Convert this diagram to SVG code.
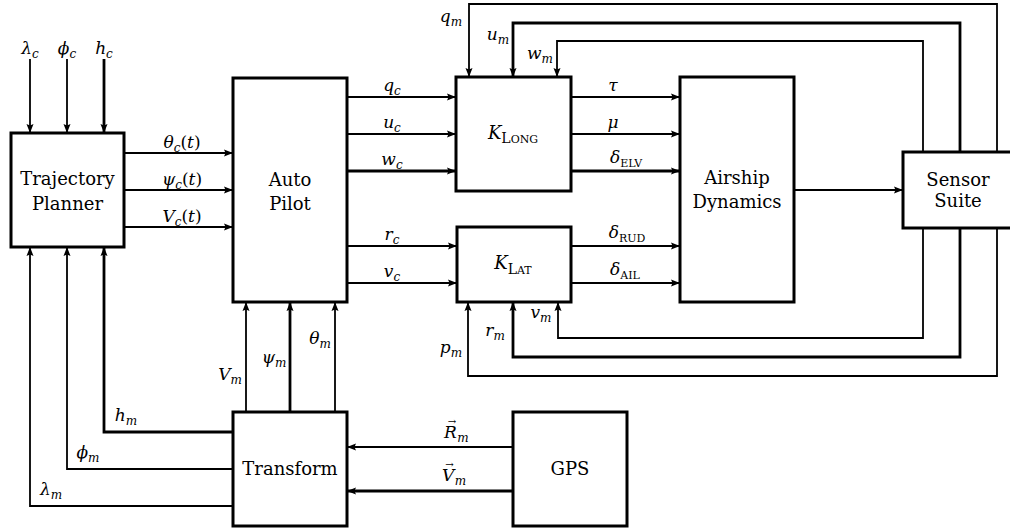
<svg xmlns="http://www.w3.org/2000/svg" width="1010" height="528" viewBox="0 0 1010 528">
<defs>
<marker id="ah" markerUnits="userSpaceOnUse" markerWidth="10" markerHeight="8" refX="9" refY="4" orient="auto">
<path d="M0,0.5 L9,4 L0,7.5 L1.5,4 z" fill="#000"/>
</marker>
<style>
.box{fill:#fff;stroke:#000;stroke-width:3}
.c{fill:none;stroke:#000;stroke-width:1.8}
.t{stroke-width:2.8}
.a{marker-end:url(#ah)}
.lbl{font-family:'DejaVu Serif','Liberation Serif','Noto Serif',Tinos,FreeSerif,Times,serif;font-size:18px;text-anchor:middle;fill:#000}
.m{font-family:'DejaVu Serif','Liberation Serif','Noto Serif',Tinos,FreeSerif,Times,serif;font-size:17px;font-style:italic;text-anchor:middle;fill:#000}
.ms{font-family:'DejaVu Serif','Liberation Serif','Noto Serif',Tinos,FreeSerif,Times,serif;font-size:17px;font-style:italic;fill:#000}
.s{font-size:12px}
.up{font-style:normal}
</style>
</defs>
<rect width="1010" height="528" fill="#fff"/>

<g id="connectors">
<path class="c a" d="M30,59 V133"/>
<path class="c a" d="M67,59 V133"/>
<path class="c t a" d="M104,59 V133"/>
<path class="c a" d="M124,153 H233"/>
<path class="c a" d="M124,190 H233"/>
<path class="c a" d="M124,227 H233"/>
<path class="c a" d="M347,97 H456"/>
<path class="c a" d="M347,134 H456"/>
<path class="c t a" d="M347,171 H456"/>
<path class="c a" d="M347,246 H457"/>
<path class="c a" d="M347,283 H457"/>
<path class="c a" d="M571,97 H680"/>
<path class="c a" d="M571,134 H680"/>
<path class="c t a" d="M571,171 H680"/>
<path class="c a" d="M571,246 H680"/>
<path class="c a" d="M571,283 H680"/>
<path class="c a" d="M794,190 H903"/>
<path class="c a" d="M997,152 V4 H469 V77"/>
<path class="c t a" d="M960,152 V23 H513 V77"/>
<path class="c a" d="M923,152 V41 H557 V77"/>
<path class="c a" d="M923,228 V338 H558 V302"/>
<path class="c t a" d="M960,228 V357 H513 V302"/>
<path class="c a" d="M997,228 V376 H468 V302"/>
<path class="c a" d="M246,412 V302"/>
<path class="c t a" d="M290,412 V302"/>
<path class="c a" d="M335,412 V302"/>
<path class="c t a" d="M233,432 H104 V247"/>
<path class="c a" d="M233,469 H67 V247"/>
<path class="c a" d="M233,506 H30 V247"/>
<path class="c a" d="M513,447 H347"/>
<path class="c t a" d="M513,491 H347"/>
</g>

<g id="labels">
<text class="m" x="30" y="54">λ<tspan class="s" dy="4">c</tspan></text>
<text class="m" x="67" y="54">ϕ<tspan class="s" dy="4">c</tspan></text>
<text class="m" x="104" y="54">h<tspan class="s" dy="4">c</tspan></text>

<text class="m" x="182" y="148">θ<tspan class="s" dy="4">c</tspan><tspan dy="-4" class="up">(</tspan>t<tspan class="up">)</tspan></text>
<text class="m" x="182" y="185">ψ<tspan class="s" dy="4">c</tspan><tspan dy="-4" class="up">(</tspan>t<tspan class="up">)</tspan></text>
<text class="m" x="182" y="222">V<tspan class="s" dy="4">c</tspan><tspan dy="-4" class="up">(</tspan>t<tspan class="up">)</tspan></text>

<text class="m" x="392" y="91">q<tspan class="s" dy="4">c</tspan></text>
<text class="m" x="392" y="128">u<tspan class="s" dy="4">c</tspan></text>
<text class="m" x="392" y="165">w<tspan class="s" dy="4">c</tspan></text>
<text class="m" x="392" y="240">r<tspan class="s" dy="4">c</tspan></text>
<text class="m" x="392" y="277">v<tspan class="s" dy="4">c</tspan></text>

<text class="m" x="613" y="91">τ</text>
<text class="m" x="613" y="128">μ</text>
<text class="m" x="626" y="163">δ<tspan class="up" font-size="11" dy="4">ELV</tspan></text>
<text class="m" x="627" y="238">δ<tspan class="up" font-size="11" dy="4">RUD</tspan></text>
<text class="m" x="625" y="275">δ<tspan class="up" font-size="11" dy="4">AIL</tspan></text>

<text class="m" x="451" y="22">q<tspan class="s" dy="4">m</tspan></text>
<text class="m" x="498" y="40">u<tspan class="s" dy="4">m</tspan></text>
<text class="m" x="540" y="59">w<tspan class="s" dy="4">m</tspan></text>

<text class="m" x="541" y="318">v<tspan class="s" dy="4">m</tspan></text>
<text class="m" x="495" y="336">r<tspan class="s" dy="4">m</tspan></text>
<text class="m" x="451" y="353">p<tspan class="s" dy="4">m</tspan></text>

<text class="m" x="230" y="380">V<tspan class="s" dy="4">m</tspan></text>
<text class="m" x="274" y="363">ψ<tspan class="s" dy="4">m</tspan></text>
<text class="m" x="320" y="344">θ<tspan class="s" dy="4">m</tspan></text>

<text class="m" x="126" y="421">h<tspan class="s" dy="4">m</tspan></text>
<text class="m" x="88" y="458">ϕ<tspan class="s" dy="4">m</tspan></text>
<text class="m" x="51" y="495">λ<tspan class="s" dy="4">m</tspan></text>

<text class="ms" x="444" y="438">R<tspan class="up" font-size="10" dx="-9" dy="-13">→</tspan><tspan class="s" dx="1" dy="17">m</tspan></text>
<text class="ms" x="442" y="481">V<tspan class="up" font-size="10" dx="-9" dy="-13">→</tspan><tspan class="s" dx="1" dy="17">m</tspan></text>
</g>

<g id="trajectory-planner">
<rect class="box" x="11" y="133" width="113" height="114"/>
<text class="lbl" x="67.5" y="185">Trajectory</text>
<text class="lbl" x="67.5" y="210">Planner</text>
</g>
<g id="auto-pilot">
<rect class="box" x="233" y="78" width="114" height="224"/>
<text class="lbl" x="290" y="186">Auto</text>
<text class="lbl" x="290" y="210">Pilot</text>
</g>
<g id="k-long">
<rect class="box" x="456" y="77" width="115" height="114"/>
<text class="lbl" x="513" y="139"><tspan font-style="italic">K</tspan><tspan font-size="14" dy="4">L</tspan><tspan font-size="11">ONG</tspan></text>
</g>
<g id="k-lat">
<rect class="box" x="457" y="227" width="114" height="75"/>
<text class="lbl" x="513" y="269"><tspan font-style="italic">K</tspan><tspan font-size="14" dy="5">L</tspan><tspan font-size="11">AT</tspan></text>
</g>
<g id="airship-dynamics">
<rect class="box" x="680" y="77" width="114" height="225"/>
<text class="lbl" x="737" y="184">Airship</text>
<text class="lbl" x="737" y="208">Dynamics</text>
</g>
<g id="sensor-suite">
<rect class="box" x="903" y="152" width="114" height="76"/>
<text class="lbl" x="958" y="186">Sensor</text>
<text class="lbl" x="958" y="207">Suite</text>
</g>
<g id="transform">
<rect class="box" x="233" y="412" width="114" height="114"/>
<text class="lbl" x="290" y="475">Transform</text>
</g>
<g id="gps">
<rect class="box" x="513" y="412" width="114" height="114"/>
<text class="lbl" x="570" y="475">GPS</text>
</g>
</svg>
